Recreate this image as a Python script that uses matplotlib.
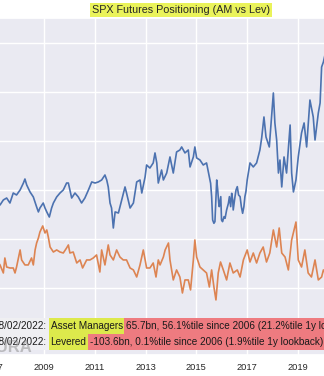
import matplotlib
matplotlib.use('Agg')
import matplotlib.pyplot as plt
from matplotlib.patches import Rectangle
import seaborn as sns

sns.set_theme(style='darkgrid')
plt.rcParams['font.family'] = ['Liberation Sans', 'DejaVu Sans']

# ---------------- data ----------------
am_t = [2006.45, 2006.6, 2006.8, 2007.0, 2007.15,
        2007.27, 2007.40, 2007.53, 2007.66, 2007.79, 2007.92,
        2008.06, 2008.19, 2008.25, 2008.32, 2008.45, 2008.58, 2008.71, 2008.78, 2008.84, 2008.97,
        2009.04, 2009.11, 2009.17, 2009.21, 2009.30, 2009.37, 2009.50, 2009.63, 2009.76, 2009.89, 2009.96,
        2010.02, 2010.09, 2010.22, 2010.35, 2010.48, 2010.61, 2010.75, 2010.88,
        2011.01, 2011.14, 2011.27, 2011.40, 2011.47, 2011.53, 2011.60, 2011.66, 2011.73, 2011.80, 2011.93,
        2012.06, 2012.19, 2012.25, 2012.39, 2012.52, 2012.65, 2012.78, 2012.85, 2012.98,
        2013.04, 2013.17, 2013.30, 2013.37, 2013.44, 2013.50, 2013.63,
        2013.70, 2013.83, 2013.96,
        2014.09, 2014.22, 2014.35, 2014.42, 2014.55, 2014.68, 2014.75, 2014.88, 2014.94,
        2015.01, 2015.14, 2015.27, 2015.40,
        2015.51, 2015.56, 2015.60, 2015.64, 2015.69, 2015.73, 2015.77, 2015.80, 2015.84, 2015.88,
        2015.90, 2015.96, 2015.99, 2016.03, 2016.09, 2016.13, 2016.19, 2016.26, 2016.30, 2016.35,
        2016.39, 2016.43, 2016.45, 2016.52, 2016.56, 2016.61, 2016.66, 2016.72, 2016.77, 2016.82,
        2016.87, 2016.91, 2016.95,
        2017.00, 2017.11, 2017.24, 2017.37, 2017.50, 2017.57, 2017.66, 2017.74, 2017.87, 2017.96,
        2018.03, 2018.09, 2018.16, 2018.23, 2018.29, 2018.36, 2018.45, 2018.55, 2018.69, 2018.75, 2018.82, 2018.92,
        2019.01, 2019.14, 2019.24, 2019.34, 2019.47, 2019.60, 2019.67, 2019.80, 2019.87, 2019.93, 2020.00,
        2020.08, 2020.2, 2020.3, 2020.5, 2020.7, 2020.9, 2021.1, 2021.3, 2021.5, 2021.7, 2021.9, 2022.0, 2022.1]
am_v = [30, 38, 33, 42, 36,
        34.7, 39.8, 41.8, 36.7, 46.9, 44.9,
        50.0, 57.1, 61.2, 55.1, 48.0, 42.9, 32.7, 27.6, 31.6, 36.7,
        31.6, 27.6, 24.5, 22.4, 31.6, 36.7, 42.9, 46.9, 50.0, 57.1, 57.1,
        50.0, 41.8, 46.9, 42.9, 36.7, 41.8, 50.0, 58.2,
        57.1, 58.2, 60.2, 65.3, 60.2, 53.1, 36.7, 31.6, 11.2, 27.6, 26.5,
        39.8, 53.1, 46.9, 31.6, 36.7, 58.2, 60.2, 46.9, 63.3,
        75.5, 72.4, 77.6, 87.8, 77.6, 57.1, 70.4,
        60.2, 67.3, 83.7,
        67.3, 88.8, 90.8, 93.9, 87.8, 90.8, 73.5, 83.7, 93.9,
        82.7, 80.6, 75.5, 77.6,
        63.6, 56.8, 43.2, 19.4, 16.0, 17.7, 43.2, 60.2, 50.0, 36.4,
        33.0, 43.2, 19.4, 17.7, 22.8, 21.1, 29.6, 36.4, 43.2, 33.0,
        46.6, 39.8, 29.6, 43.2, 50.0, 53.4, 44.9, 43.2, 33.0, 26.2,
        33.0, 43.2, 48.3,
        60.2, 77.6, 73.5, 77.6, 90.8, 103.1, 124.5, 104.1, 93.9, 124.5,
        149.0, 118.4, 101.0, 67.3, 80.6, 53.1, 83.7, 67.3, 116.3, 67.3, 48.0, 60.2,
        83.7, 108.2, 118.4, 93.9, 141.8, 124.5, 101.0, 128.6, 138.8, 175.5, 180.6,
        190, 120, 60, 90, 110, 130, 150, 120, 140, 110, 90, 80, 65.7]

lev_t = [2006.45, 2006.6, 2006.8, 2007.0, 2007.15,
         2007.27, 2007.40, 2007.46, 2007.53, 2007.66, 2007.79, 2007.86, 2007.92,
         2008.06, 2008.12, 2008.25, 2008.38, 2008.51, 2008.58, 2008.65, 2008.71, 2008.78, 2008.84, 2008.95,
         2009.04, 2009.11, 2009.17, 2009.24, 2009.37, 2009.50, 2009.63, 2009.76, 2009.89, 2009.96,
         2010.02, 2010.15, 2010.29, 2010.42, 2010.52, 2010.68, 2010.81, 2010.94,
         2011.07, 2011.20, 2011.27, 2011.40, 2011.53, 2011.60, 2011.73, 2011.86, 2011.99,
         2012.12, 2012.25, 2012.39, 2012.52, 2012.65, 2012.78, 2012.91,
         2013.04, 2013.17, 2013.30, 2013.41, 2013.50,
         2013.57, 2013.70, 2013.77, 2013.90, 2013.96,
         2014.09, 2014.22, 2014.35, 2014.45, 2014.55, 2014.68, 2014.77, 2014.88, 2014.94,
         2015.01, 2015.14, 2015.27, 2015.40, 2015.51, 2015.60, 2015.69, 2015.77, 2015.86, 2015.95,
         2016.06, 2016.19, 2016.32, 2016.45, 2016.61, 2016.72, 2016.85,
         2017.00, 2017.11, 2017.24, 2017.37, 2017.50, 2017.63, 2017.76, 2017.89,
         2018.03, 2018.16, 2018.26, 2018.36, 2018.49, 2018.62, 2018.75, 2018.92,
         2019.01, 2019.14, 2019.27, 2019.40, 2019.53, 2019.67, 2019.80, 2019.93, 2020.00,
         2020.08, 2020.2, 2020.3, 2020.5, 2020.7, 2020.9, 2021.1, 2021.3, 2021.5, 2021.7, 2021.9, 2022.1]
lev_v = [-20, -28, -18, -30, -22,
         -26.5, -34.7, -19.4, -28.6, -29.6, -29.6, -34.7, -28.6,
         -11.2, -21.4, -26.5, -26.5, -19.4, -26.5, -11.2, -4.1, 1.0, 7.1, 13.3,
         6.1, 9.2, 2.0, -8.2, -13.3, -11.2, -13.3, -14.3, -9.2, -6.1,
         -14.3, -13.3, -24.5, -21.4, -29.6, -21.4, -21.4, -19.4,
         -16.3, -33.7, -11.2, -26.5, -6.1, -16.3, -21.4, -11.2, -18.4,
         -21.4, -21.4, -29.6, -31.6, -38.8, -26.5, -11.2,
         -29.6, -29.6, -24.5, -38.8, -21.4,
         -26.5, -18.4, -11.2, -4.1, -21.4,
         -41.8, -31.6, -38.8, -55.1, -41.8, -41.8, -52.0, -21.4, -1.0,
         -18.4, -28.6, -31.6, -34.7, -49.0, -31.6, -49.0, -62.2, -34.7, -23.5,
         -31.6, -41.8, -24.5, -34.7, -31.6, -38.8, -21.4,
         -11.2, -23.5, -14.3, -24.5, -14.3, -8.2, -23.5, -14.3,
         9.2, -8.2, 11.2, -14.3, -18.4, -31.6, -1.0, 17.3,
         -21.4, -28.6, -11.2, -34.7, -38.8, -21.4, -41.8, -38.8, -31.6,
         -35, -20, -10, -40, -60, -50, -70, -55, -65, -80, -95, -103.6]

year_ticks = [2007, 2009, 2011, 2013, 2015, 2017, 2019, 2021]
y_ticks = [-100, -50, 0, 50, 100, 150, 200]
title = "SPX Futures Positioning (AM vs Lev)"
asof = "08/02/2022:"
series_names = ["Asset Managers", "Levered"]
series_stats = ["65.7bn, 56.1%tile since 2006 (21.2%tile 1y lookback)",
                "-103.6bn, 0.1%tile since 2006 (1.9%tile 1y lookback)"]
watermark = "NOMURA"

# ---------------- layout ----------------
W, H, DPI = 324, 376, 100
fig = plt.figure(figsize=(W / DPI, H / DPI), dpi=DPI)
L, R, T, B = -37.3, 399.6, 18, 355          # axes box in pixels (crop of a wider chart)
ax = fig.add_axes([L / W, 1 - B / H, (R - L) / W, (B - T) / H])

ax.plot(am_t, am_v, color='#4C72B0', lw=1.2)
ax.plot(lev_t, lev_v, color='#DD8452', lw=1.2)
ax.set_xlim(2005.8, 2023.0)
ax.set_ylim(-118.4, 225.5)
ax.set_xticks(year_ticks)
ax.set_xticklabels([str(y) for y in year_ticks])
ax.set_yticks(y_ticks)
ax.tick_params(axis='both', length=0)
ax.tick_params(axis='x', labelsize=6.7, pad=5.5, colors='#262626')
ax.tick_params(axis='y', labelsize=6.7)

ax.set_title(title, fontsize=7.75, pad=3.6, color='#262626',
             bbox=dict(facecolor='#eaf35a', edgecolor='none', pad=1.6))

# watermark
fig.text(33 / W, 1 - 352 / H, watermark, fontsize=12, color='#8a8a8a', alpha=0.5,
         ha='right', va='baseline', fontweight='bold', zorder=6)

# status rows: adjacent coloured boxes drawn in figure pixels
renderer = fig.canvas.get_renderer()
FS = 7.2
HP = 1.8          # horizontal padding in px
ROW_H = 16.0
row_top = 318.0
x0 = -8.0
for name, stat in zip(series_names, series_stats):
    x = x0
    yc = row_top + ROW_H / 2
    for txt, fc in [(asof, '#efeff2'), (name, '#dde94c'), (stat, '#ee7b80')]:
        t = fig.text((x + HP) / W, 1 - yc / H, txt, fontsize=FS, ha='left', va='center',
                     color='#1a1a1a', zorder=5)
        w = t.get_window_extent(renderer).width
        fig.add_artist(Rectangle((x / W, 1 - (row_top + ROW_H) / H), (w + 2 * HP) / W, ROW_H / H,
                                 transform=fig.transFigure, facecolor=fc, edgecolor='none',
                                 zorder=4))
        x = x + w + 2 * HP
    row_top += ROW_H

fig.savefig('out.png', dpi=DPI)
